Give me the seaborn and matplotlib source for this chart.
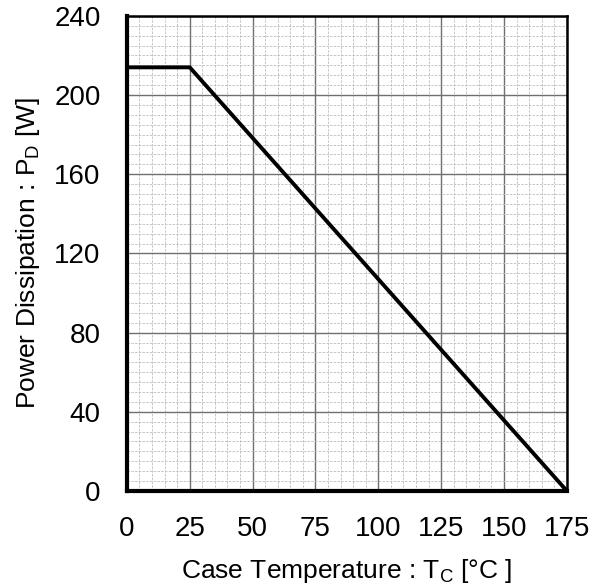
import matplotlib
matplotlib.use("Agg")
import matplotlib.pyplot as plt
import seaborn as sns
import pandas as pd
import numpy as np
from matplotlib.ticker import MultipleLocator

temp_c = [0, 25, 175]
power_w = [214, 214, 0]
x_ticks = [0, 25, 50, 75, 100, 125, 150, 175]
y_ticks = [0, 40, 80, 120, 160, 200, 240]

sns.set_style("white")
plt.rcParams['font.family'] = ['Liberation Sans', 'DejaVu Sans']
plt.rcParams['mathtext.fontset'] = 'custom'
plt.rcParams['mathtext.rm'] = 'Liberation Sans'
plt.rcParams['mathtext.it'] = 'Liberation Sans'

df = pd.DataFrame({"T": temp_c, "P": power_w})

fig = plt.figure(figsize=(5.93, 5.88), dpi=100)
ax = fig.add_axes([0.214, 0.165, 0.742, 0.808])

ax.xaxis.set_minor_locator(MultipleLocator(5))
ax.yaxis.set_minor_locator(MultipleLocator(5))
ax.grid(which='minor', color='#bdbdbd', linestyle=(0, (3, 1.5)), linewidth=0.6, zorder=0)
ax.grid(which='major', color='#707070', linestyle='-', linewidth=1.0, zorder=0)

sns.lineplot(data=df, x="T", y="P", ax=ax, color='black', linewidth=2.8, zorder=3)

ax.set_xlim(0, 175)
ax.set_ylim(0, 240)
ax.set_xticks(x_ticks)
ax.set_yticks(y_ticks)
ax.tick_params(axis='both', which='both', length=0, labelsize=20, labelcolor='black')
ax.tick_params(axis='x', pad=18)
ax.tick_params(axis='y', pad=19)

ax.set_xlabel("Case Temperature : T$_\\mathrm{C}$ [°C ]", fontsize=19, labelpad=11, color='black')
ax.set_ylabel("Power Dissipation : P$_\\mathrm{D}$ [W]", fontsize=19, labelpad=9, color='black')

for side in ['left', 'bottom']:
    ax.spines[side].set_linewidth(3.0)
    ax.spines[side].set_color('black')
for side in ['top', 'right']:
    ax.spines[side].set_linewidth(1.8)
    ax.spines[side].set_color('black')
    ax.spines[side].set_visible(True)

fig.savefig("out.png", dpi=100)
